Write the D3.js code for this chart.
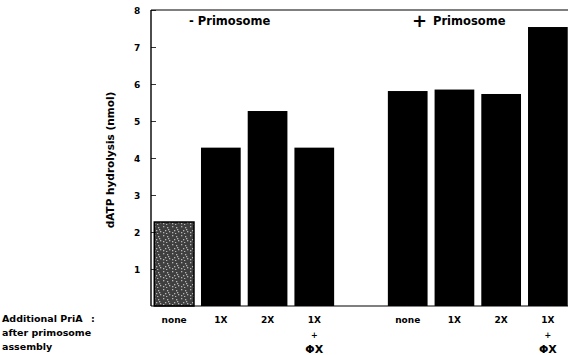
<!DOCTYPE html>
<html><head><meta charset="utf-8">
<script src="https://cdn.jsdelivr.net/npm/d3@7"></script>
<style>body{margin:0;background:#fff}svg{display:block}text{font-family:"DejaVu Sans",sans-serif;font-weight:bold;fill:#000}</style>
</head><body><svg id="c" width="568" height="355"></svg>
<script>
const categories = ["none","1X","2X","1X+ΦX","","none","1X","2X","1X+ΦX"];
const values = [2.27, 4.28, 5.27, 4.28, null, 5.81, 5.85, 5.73, 7.54];
const groups = ["-","-","-","-","","+","+","+","+"];
const yTicks = [1,2,3,4,5,6,7,8];
const groupLabels = ["Primosome","Primosome"];
const rowLabel = ["Additional PriA","after primosome","assembly"];

const svg = d3.select("#c");
const W = 568, H = 355;
const m = {l:151, t:10, b:306, r:571};
const x = d3.scaleBand().domain(d3.range(categories.length)).range([m.l, m.r]).paddingInner(0.15).paddingOuter(0.07);
const y = d3.scaleLinear().domain([0,8]).range([m.b, m.t]);

// stipple pattern for the first bar
const defs = svg.append("defs");
const pat = defs.append("pattern").attr("id","stip").attr("patternUnits","userSpaceOnUse").attr("width",9).attr("height",9);
pat.append("rect").attr("width",9).attr("height",9).attr("fill","#3f3f3f");
[[1,1],[5,2],[3,5],[7,6],[1,7],[6,4],[4,8]].forEach(([a,b])=>pat.append("rect").attr("x",a).attr("y",b).attr("width",1.3).attr("height",1.3).attr("fill","#b5b5b5"));

// bars
svg.append("g").selectAll("rect").data(values.map((v,i)=>({v,i})).filter(d=>d.v!=null)).join("rect")
  .attr("x",d=>x(d.i)).attr("width",x.bandwidth())
  .attr("y",d=>y(d.v)).attr("height",d=>y(0)-y(d.v))
  .attr("fill",d=>d.i===0?"url(#stip)":"#000")
  .attr("stroke","#000").attr("stroke-width",d=>d.i===0?1.5:0);

// axes
const ya = d3.axisRight(y).tickValues(yTicks).tickSize(5).tickFormat(d3.format("d"));
const gy = svg.append("g").attr("transform",`translate(${m.l},0)`).call(ya);
gy.select(".domain").remove();
gy.selectAll(".tick line").attr("stroke","#000").attr("stroke-width",0.8);
gy.selectAll(".tick text").attr("x",-14).attr("text-anchor","middle").attr("dy","0.35em").style("font-size","9px");
svg.append("line").attr("x1",m.l).attr("x2",m.l).attr("y1",m.t).attr("y2",m.b).attr("stroke","#000").attr("stroke-width",1.4);
svg.append("line").attr("x1",m.l).attr("x2",W).attr("y1",m.t).attr("y2",m.t).attr("stroke","#000").attr("stroke-width",1.2);
svg.append("line").attr("x1",m.l).attr("x2",W).attr("y1",m.b).attr("y2",m.b).attr("stroke","#000").attr("stroke-width",1.2);

// y title
svg.append("text").attr("transform","translate(114,160) rotate(-90)").attr("text-anchor","middle")
  .style("font-size","10.5px").text("dATP hydrolysis (nmol)");

// group labels
svg.append("text").attr("x",189).attr("y",25).style("font-size","11.5px").text("- "+groupLabels[0]);
svg.append("text").attr("x",412).attr("y",27).style("font-size","18px").text("+");
svg.append("text").attr("x",433).attr("y",25).style("font-size","11.5px").text(groupLabels[1]);

// category labels
const gx = svg.append("g");
categories.forEach((c,i)=>{
  if(!c) return;
  const cx = x(i)+x.bandwidth()/2;
  const parts = c.split("+");
  gx.append("text").attr("x",cx).attr("y",323).attr("text-anchor","middle").style("font-size","9px").text(parts[0]);
  if(parts.length>1){
    gx.append("text").attr("x",cx).attr("y",338).attr("text-anchor","middle").style("font-size","8px").text("+");
    gx.append("text").attr("x",cx).attr("y",353).attr("text-anchor","middle").style("font-size","11px").text(parts[1]);
  }
});
// row label
rowLabel.forEach((t,i)=>
  svg.append("text").attr("x",2).attr("y",322+i*14).style("font-size","9.5px").text(t));
svg.append("text").attr("x",91).attr("y",322).style("font-size","9.5px").text(":");
</script></body></html>
